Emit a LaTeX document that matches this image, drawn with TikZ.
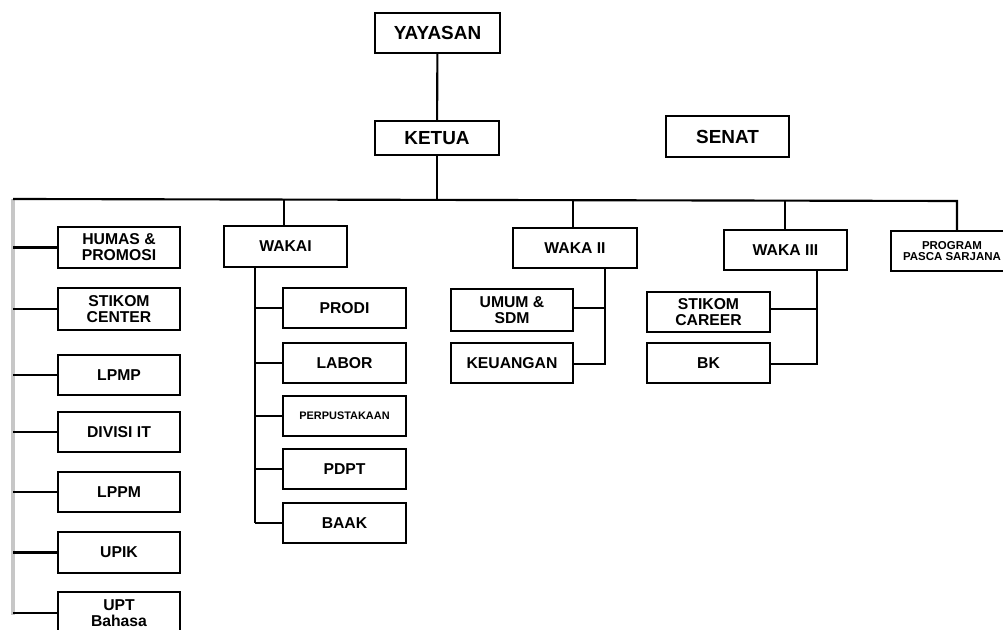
\documentclass[tikz,border=0pt]{standalone}
\usepackage{fontspec}
\setmainfont{Liberation Sans}
\begin{document}
\begin{tikzpicture}[x=0.75pt,y=-0.75pt,
  bx/.style n args={2}{draw=black,line width=1.7pt,fill=white,inner sep=0pt,align=center,
    minimum width=#1*0.75pt,minimum height=#2*0.75pt,font=\bfseries\fontsize{11.8}{12}\selectfont},
  big/.style={font=\bfseries\fontsize{14.2}{14.5}\selectfont},
  tiny/.style={font=\bfseries\fontsize{8.2}{8.5}\selectfont},
  small/.style={font=\bfseries\fontsize{8.6}{8.6}\selectfont},
  ln/.style={line width=1.6pt,draw=black},
  gln/.style={line width=3pt,draw=black!22}]
\useasboundingbox (0,0) rectangle (1003,630);
\clip (0,0) rectangle (1003,630);
% top
\node[bx={125}{40},big] (yay) at (437.5,33) {YAYASAN};
\node[bx={124}{34},big] (ket) at (437,138) {KETUA};
\node[bx={123}{41},big] (sen) at (727.5,136.5) {SENAT};
\coordinate (lt) at (13,199);
\coordinate (rt) at (957,201);
\coordinate (bus) at (437,200);
% left column
\node[bx={122}{41}] (hum) at (119,247.5) {HUMAS \&\\PROMOSI};
\node[bx={122}{42}] (stc) at (119,309) {STIKOM\\CENTER};
\node[bx={122}{40}] (lpmp) at (119,375) {LPMP};
\node[bx={122}{40}] (div) at (119,432) {DIVISI IT};
\node[bx={122}{40}] (lppm) at (119,492) {LPPM};
\node[bx={122}{41}] (upik) at (119,552.5) {UPIK};
\node[bx={122}{42}] (upt) at (119,613) {UPT\\Bahasa};
\coordinate (lb) at (13,615);
% wakai
\node[bx={123}{41}] (wk1) at (285.5,246.5) {WAKAI};
\node[bx={123}{40}] (prodi) at (344.5,308) {PRODI};
\node[bx={123}{40}] (labor) at (344.5,363) {LABOR};
\node[bx={123}{40},tiny] (perp) at (344.5,416) {PERPUSTAKAAN};
\node[bx={123}{40}] (pdpt) at (344.5,469) {PDPT};
\node[bx={123}{40}] (baak) at (344.5,523) {BAAK};
\coordinate (v1) at (255,523);
% waka ii
\node[bx={124}{40}] (wk2) at (575,248) {WAKA II};
\node[bx={122}{42}] (umum) at (512,310) {UMUM \&\\SDM};
\node[bx={122}{40}] (keu) at (512,363) {KEUANGAN};
\coordinate (v2) at (605,364);
% waka iii
\node[bx={123}{40}] (wk3) at (785.5,250) {WAKA III};
\node[bx={123}{40}] (stcar) at (708.5,312) {STIKOM\\CAREER};
\node[bx={123}{40}] (bk) at (708.5,363) {BK};
\coordinate (v3) at (817,364);
% program
\node[bx={122}{40},small] (pps) at (952,251) {PROGRAM\\PASCA SARJANA};
% connectors
\draw[gln] (lt) -- (lb);
\draw[ln] (yay) -- (ket);
\draw[ln] (ket) -- (bus);
\draw[ln] (lt) -- (rt) -- (pps.north -| rt);
\foreach \n in {hum,stc,lpmp,div,lppm,upik,upt}
  \draw[ln] (lt |- \n.west) -- (\n.west);
\draw[ln] (wk1.north -| 284,0) -- (284,200);
\draw[ln] (wk1.south -| v1) -- (v1);
\foreach \n in {prodi,labor,perp,pdpt,baak}
  \draw[ln] (v1 |- \n.west) -- (\n.west);
\draw[ln] (wk2.north -| 573,0) -- (573,200);
\draw[ln] (wk2.south -| v2) -- (v2) -- (keu.east |- v2);
\draw[ln] (umum.east |- 0,308) -- (v2 |- 0,308);
\draw[ln] (wk3.north -| 785,0) -- (785,201);
\draw[ln] (wk3.south -| v3) -- (v3) -- (bk.east |- v3);
\draw[ln] (stcar.east |- 0,309) -- (v3 |- 0,309);
\end{tikzpicture}
\end{document}
